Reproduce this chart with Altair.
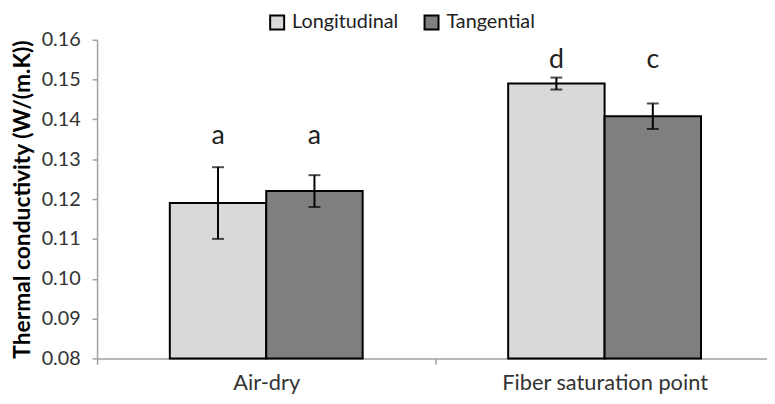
import altair as alt
import pandas as pd

categories = ["Air-dry", "Fiber saturation point"]
series = ["Longitudinal", "Tangential"]
longitudinal = [0.119, 0.149]
tangential = [0.122, 0.1408]
longitudinal_err = [0.009, 0.0015]
tangential_err = [0.004, 0.0032]
longitudinal_letters = ["a", "d"]
tangential_letters = ["a", "c"]
letter_level = [0.1339, 0.1529]
y_ticks = [0.08, 0.09, 0.10, 0.11, 0.12, 0.13, 0.14, 0.15, 0.16]

rows = []
for i, c in enumerate(categories):
    rows.append(dict(idx=i, cat=c, series=series[0], value=longitudinal[i],
                     err=longitudinal_err[i], letter=longitudinal_letters[i], ly=letter_level[i]))
    rows.append(dict(idx=i, cat=c, series=series[1], value=tangential[i],
                     err=tangential_err[i], letter=tangential_letters[i], ly=letter_level[i]))
df = pd.DataFrame(rows)

BW = 0.285
FONT = "Lato"
label_expr = " : ".join(
    [f"datum.value == {i + 0.5} ? '{c}'" for i, c in enumerate(categories)]) + " : ''"

xscale = alt.Scale(domain=[0, 1.98], nice=False, zero=False)
yscale = alt.Scale(domain=[0.08, 0.16], nice=False, zero=False)

base = alt.Chart(df).transform_calculate(
    x0=f"datum.idx + 0.5 + (datum.series == '{series[0]}' ? -{BW} : 0)",
    x1=f"datum.idx + 0.5 + (datum.series == '{series[0]}' ? 0 : {BW})",
    xc=f"datum.idx + 0.5 + (datum.series == '{series[0]}' ? -{BW / 2} : {BW / 2})",
    lo="datum.value - datum.err",
    hi="datum.value + datum.err",
)

bars = base.mark_bar(stroke="black", strokeWidth=2).encode(
    x=alt.X("x0:Q", scale=xscale, title=None,
            axis=alt.Axis(values=[0, 0.5, 1, 1.5], labelExpr=label_expr,
                          tickOpacity={"expr": "datum.value % 1 == 0 ? 1 : 0"},
                          grid=False, domainColor="#a0a0a0", tickColor="#a0a0a0",
                          tickSize=6, labelFontSize=22, labelFont=FONT, labelColor="#333333",
                          labelPadding=8, labelLimit=0, labelOverlap=False,
                          domainWidth=1.5, tickWidth=1.5)),
    x2="x1:Q",
    y=alt.Y("value:Q", scale=yscale,
            title="Thermal conductivity (W/(m.K))",
            axis=alt.Axis(values=y_ticks, format=".2f", grid=False,
                          domainColor="#a0a0a0", tickColor="#a0a0a0", tickSize=5,
                          domainWidth=1.5, tickWidth=1.5,
                          labelFontSize=20, labelFont=FONT, labelColor="#333333",
                          labelPadding=12, titleFont=FONT, titleFontSize=23,
                          titleFontWeight="bold", titleColor="#000000", titlePadding=7)),
    y2=alt.Y2(datum=0.08),
    fill=alt.Fill("series:N", scale=alt.Scale(domain=series, range=["#d9d9d9", "#7f7f7f"]),
                  legend=alt.Legend(orient="none", legendX=172, legendY=-28,
                                    direction="horizontal", title=None,
                                    symbolType="square", symbolSize=200,
                                    symbolStrokeColor="black", symbolStrokeWidth=2,
                                    labelFont=FONT, labelFontSize=20, labelColor="#222222",
                                    columnPadding=21, labelOffset=5)),
)

rule = base.mark_rule(color="black", strokeWidth=2).encode(
    x="xc:Q", y="lo:Q", y2="hi:Q")
cap_lo = base.mark_tick(color="black", thickness=2, size=12, orient="horizontal").encode(
    x="xc:Q", y="lo:Q")
cap_hi = base.mark_tick(color="black", thickness=2, size=12, orient="horizontal").encode(
    x="xc:Q", y="hi:Q")
letters = base.mark_text(font=FONT, fontSize=27, color="#222222", baseline="alphabetic").encode(
    x="xc:Q", y="ly:Q", text="letter:N")

chart = alt.layer(bars, rule, cap_lo, cap_hi, letters).properties(
    width=677, height=322,
    autosize=alt.AutoSizeParams(type="none"),
    padding={"left": 90, "top": 30, "right": 0, "bottom": 44},
).configure_view(stroke=None)

chart.save("out.html", embed_options={"renderer": "svg", "actions": False})
